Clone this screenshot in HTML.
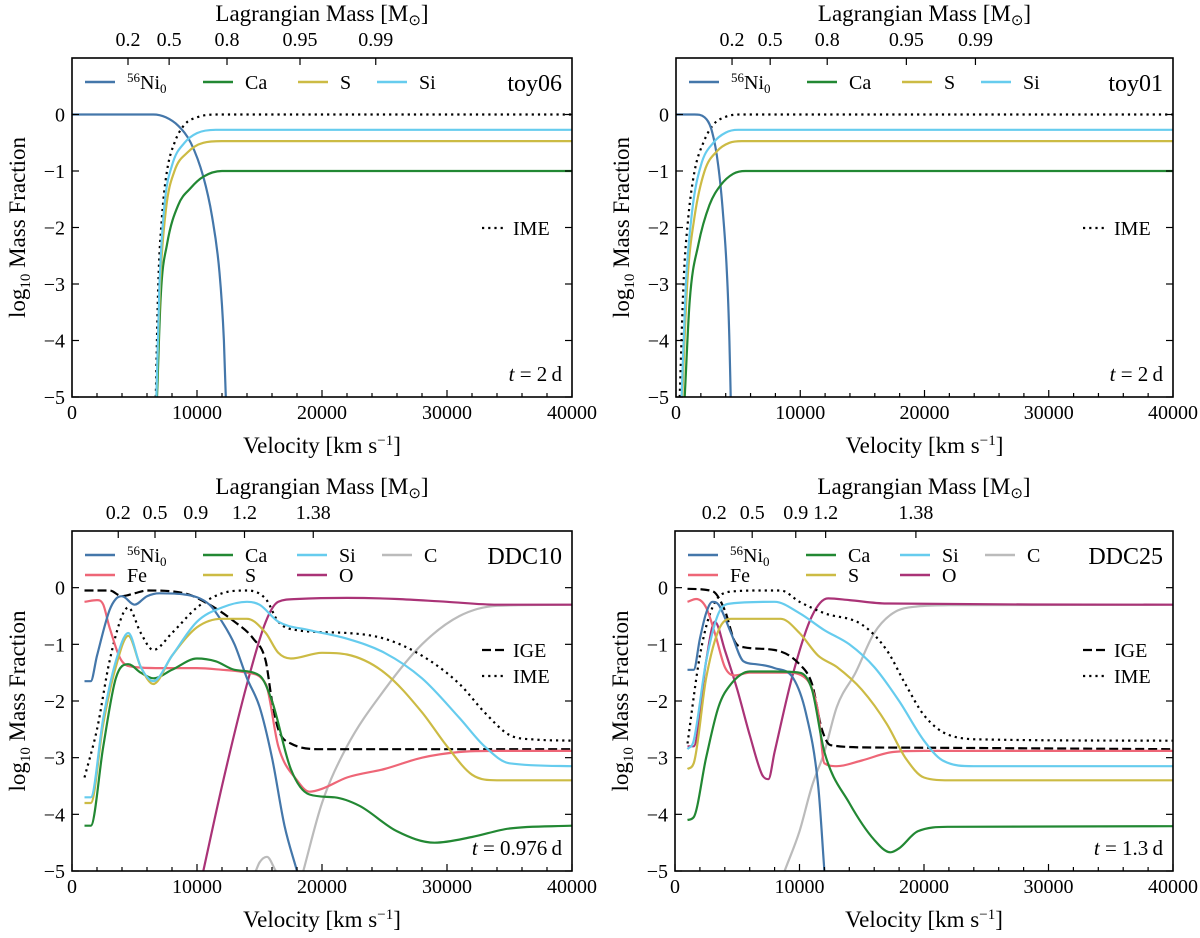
<!DOCTYPE html>
<html><head><meta charset="utf-8">
<style>
html,body{margin:0;padding:0;background:#fff;}
svg{display:block;font-family:"Liberation Serif",serif;}
</style></head>
<body>
<svg id="fig" width="1200" height="938" viewBox="0 0 1200 938" xmlns="http://www.w3.org/2000/svg"></svg>
<script>
// ---------- data (velocity km/s, log10 mass fraction) ----------
const velTicks = [0, 10000, 20000, 30000, 40000];
const yTicks = [0, -1, -2, -3, -4, -5];

const toy06Ni = [[0,0],[6500,0],[7500,-0.05],[8500,-0.2],[9500,-0.5],[10500,-1.1],[11200,-1.8],[11800,-2.8],[12150,-4],[12300,-5]];
const toy06IME = [[6700,-5],[6900,-3],[7200,-1.8],[7600,-1],[8200,-0.5],[9000,-0.18],[10000,-0.05],[11500,0],[40000,0]];
const toy06Si = [[6750,-5],[7000,-3],[7400,-1.6],[8000,-0.9],[9000,-0.5],[10000,-0.33],[11500,-0.27],[40000,-0.27]];
const toy06S = [[6750,-5],[7050,-3],[7500,-1.7],[8200,-1.0],[9200,-0.68],[10500,-0.5],[12000,-0.47],[40000,-0.47]];
const toy06Ca = [[6800,-5],[7100,-3.2],[7600,-2.3],[8500,-1.6],[9500,-1.3],[10500,-1.1],[12000,-1.0],[40000,-1.0]];

const toy01Ni = [[0,0],[1500,0],[2300,-0.05],[2900,-0.3],[3400,-0.9],[3800,-1.8],[4100,-2.8],[4300,-4],[4400,-5]];
const toy01IME = [[300,-5],[600,-3],[1000,-1.8],[1500,-1],[2200,-0.5],[3000,-0.18],[4000,-0.04],[5200,0],[40000,0]];
const toy01Si = [[450,-5],[800,-3],[1300,-1.7],[2000,-0.9],[3000,-0.5],[4000,-0.32],[5000,-0.27],[40000,-0.27]];
const toy01S = [[500,-5],[900,-3],[1500,-1.8],[2300,-1.0],[3300,-0.65],[4300,-0.5],[5300,-0.47],[40000,-0.47]];
const toy01Ca = [[700,-5],[1100,-3.3],[1800,-2.3],[2700,-1.6],[3600,-1.25],[4600,-1.05],[5600,-1.0],[40000,-1.0]];

const ddc10Ni = [[1000,-1.65],[1500,-1.65],[2000,-1.2],[3000,-0.4],[3500,-0.2],[4000,-0.15],[5000,-0.3],[6000,-0.15],[7000,-0.1],[9000,-0.12],[11000,-0.3],[12000,-0.6],[13000,-1.0],[14000,-1.6],[15000,-2.1],[16000,-3.0],[17000,-4.2],[18000,-5]];
const ddc10Fe = [[1000,-0.25],[2000,-0.22],[2500,-0.3],[3000,-0.7],[4000,-1.3],[5000,-1.4],[7000,-1.42],[10000,-1.42],[12000,-1.45],[14000,-1.5],[15500,-1.7],[16500,-2.8],[18000,-3.4],[19000,-3.6],[20000,-3.55],[22000,-3.35],[25000,-3.2],[28000,-3.0],[31000,-2.9],[34000,-2.88],[40000,-2.88]];
const ddc10IGE = [[1000,-0.05],[3000,-0.05],[4000,-0.15],[5000,-0.1],[6000,-0.05],[9000,-0.1],[11000,-0.3],[13000,-0.6],[14500,-0.9],[15500,-1.3],[16000,-2.0],[16500,-2.5],[17500,-2.75],[20000,-2.85],[40000,-2.85]];
const ddc10IME = [[1000,-3.35],[2000,-2.5],[3000,-1.3],[4000,-0.5],[4500,-0.35],[5500,-0.8],[6500,-1.1],[8000,-0.8],[10000,-0.35],[12000,-0.1],[14000,-0.05],[15500,-0.2],[16500,-0.6],[18000,-0.75],[22000,-0.8],[25000,-0.9],[28000,-1.2],[31000,-1.7],[33000,-2.2],[35000,-2.6],[37000,-2.68],[40000,-2.7]];
const ddc10Si = [[1000,-3.7],[1500,-3.7],[2500,-2.3],[3500,-1.3],[4500,-0.8],[5500,-1.4],[6500,-1.65],[8000,-1.2],[10000,-0.6],[12000,-0.35],[14000,-0.25],[15000,-0.3],[16500,-0.6],[19000,-0.75],[22000,-0.9],[25000,-1.15],[28000,-1.6],[31000,-2.3],[33000,-2.8],[35000,-3.1],[40000,-3.15]];
const ddc10S = [[1000,-3.8],[1500,-3.8],[2500,-2.4],[3500,-1.4],[4500,-0.85],[5500,-1.4],[6500,-1.7],[8000,-1.2],[10000,-0.7],[12000,-0.55],[14000,-0.55],[15500,-0.8],[16500,-1.15],[17500,-1.25],[20000,-1.15],[22000,-1.18],[25000,-1.5],[28000,-2.2],[30000,-2.8],[32000,-3.3],[34000,-3.4],[40000,-3.4]];
const ddc10Ca = [[1000,-4.2],[1500,-4.2],[2500,-2.8],[3500,-1.6],[4500,-1.35],[5500,-1.5],[6500,-1.6],[8000,-1.45],[10000,-1.25],[11500,-1.3],[13000,-1.45],[15000,-1.55],[16000,-2.0],[17500,-3.2],[19000,-3.65],[21000,-3.7],[23000,-3.85],[26000,-4.3],[29000,-4.5],[32000,-4.4],[35000,-4.25],[40000,-4.2]];
const ddc10O = [[10500,-5],[12000,-3.5],[14000,-1.7],[15500,-0.6],[16500,-0.25],[18000,-0.2],[22000,-0.18],[26000,-0.2],[30000,-0.25],[34000,-0.3],[40000,-0.3]];
const ddc10C = [[14700,-5],[15000,-4.85],[15600,-4.75],[16300,-5]];
const ddc10C2 = [[18500,-5],[20000,-3.8],[22000,-2.8],[25000,-1.8],[28000,-1.0],[31000,-0.5],[34000,-0.32],[40000,-0.3]];

const ddc25Ni = [[1000,-1.45],[1500,-1.45],[2000,-0.9],[2500,-0.45],[3000,-0.25],[3500,-0.3],[4500,-0.8],[5500,-1.3],[6500,-1.35],[8000,-1.42],[9500,-1.6],[10500,-2.2],[11500,-3.5],[12000,-5]];
const ddc25Fe = [[1000,-0.25],[1700,-0.2],[2500,-0.35],[3200,-0.8],[4000,-1.4],[4800,-1.55],[6000,-1.5],[9000,-1.5],[10500,-1.6],[11500,-2.2],[12000,-3.1],[13000,-3.15],[15000,-3.05],[17500,-2.9],[20000,-2.88],[40000,-2.88]];
const ddc25IGE = [[1000,-0.02],[3000,-0.06],[4000,-0.4],[4800,-0.95],[5500,-1.05],[8000,-1.1],[10000,-1.35],[11000,-1.7],[11800,-2.5],[12500,-2.78],[16000,-2.82],[40000,-2.85]];
const ddc25IME = [[1000,-2.75],[2000,-1.2],[3000,-0.35],[4500,-0.07],[7000,-0.05],[8500,-0.05],[10000,-0.25],[12000,-0.45],[15000,-0.65],[17000,-1.1],[18500,-1.7],[20000,-2.25],[22000,-2.6],[25000,-2.68],[40000,-2.7]];
const ddc25Si = [[1000,-2.85],[1500,-2.7],[2500,-1.3],[3500,-0.45],[4500,-0.28],[8000,-0.25],[10000,-0.45],[12000,-0.75],[14000,-1.0],[16000,-1.4],[18000,-2.0],[20000,-2.7],[21500,-3.05],[24000,-3.15],[40000,-3.15]];
const ddc25S = [[1000,-3.2],[1500,-3.1],[2500,-1.6],[3500,-0.75],[4500,-0.55],[8500,-0.55],[10000,-0.8],[11500,-1.2],[13000,-1.4],[15000,-1.8],[17000,-2.4],[18500,-3.0],[20000,-3.35],[22000,-3.4],[40000,-3.4]];
const ddc25Ca = [[1000,-4.1],[1500,-4.05],[2500,-3.0],[3500,-2.1],[4500,-1.7],[6000,-1.48],[8000,-1.48],[10000,-1.5],[11000,-1.8],[12000,-2.9],[14000,-3.8],[16000,-4.45],[17300,-4.67],[18000,-4.6],[19500,-4.3],[22000,-4.22],[40000,-4.21]];
const ddc25O = [[1000,-2.8],[1500,-2.8],[2500,-1.3],[3200,-0.6],[4000,-1.1],[5000,-1.8],[6000,-2.6],[7000,-3.3],[7500,-3.38],[8000,-2.9],[9500,-1.5],[11000,-0.5],[12300,-0.19],[14000,-0.22],[17000,-0.28],[40000,-0.3]];
const ddc25C = [[8800,-5],[10000,-4.3],[11000,-3.5],[12000,-2.9],[13000,-2.1],[14500,-1.5],[16000,-0.8],[17500,-0.45],[19500,-0.33],[22000,-0.31],[40000,-0.3]];

const massTop06 = [[4480,"0.2"],[7770,"0.5"],[12400,"0.8"],[18240,"0.95"],[24300,"0.99"]];
const massTop01 = [[4510,"0.2"],[7580,"0.5"],[12170,"0.8"],[18540,"0.95"],[24100,"0.99"]];
const massDDC10 = [[3700,"0.2"],[6640,"0.5"],[9900,"0.9"],[13800,"1.2"],[19300,"1.38"]];
const massDDC25 = [[3150,"0.2"],[6200,"0.5"],[9700,"0.9"],[12100,"1.2"],[19350,"1.38"]];

// ---------- styles ----------
const COL = {Ni:"#4477aa",Ca:"#228833",S:"#ccbb44",Si:"#66ccee",Fe:"#ee6677",O:"#aa3377",C:"#bbbbbb",IGE:"#000",IME:"#000"};
const NS = "http://www.w3.org/2000/svg";
const svg = document.getElementById('fig');
function el(tag, attrs, parent){ const e=document.createElementNS(NS,tag); for(const k in attrs) e.setAttribute(k,attrs[k]); (parent||svg).appendChild(e); return e; }

// monotone cubic path through pixel points
function smoothPath(P){
  const n=P.length; if(n<2) return '';
  const dx=[],m=[],t=new Array(n);
  for(let i=0;i<n-1;i++){dx[i]=P[i+1][0]-P[i][0]; m[i]=(P[i+1][1]-P[i][1])/(dx[i]||1e-6);}
  t[0]=m[0]; t[n-1]=m[n-2];
  for(let i=1;i<n-1;i++){ t[i]=(m[i-1]*m[i]<=0)?0:(m[i-1]+m[i])/2; }
  for(let i=0;i<n-1;i++){
    if(m[i]===0){t[i]=0;t[i+1]=0;continue;}
    const a=t[i]/m[i], b=t[i+1]/m[i], s=a*a+b*b;
    if(s>9){const k=3/Math.sqrt(s); t[i]=k*a*m[i]; t[i+1]=k*b*m[i];}
  }
  let d='M'+P[0][0].toFixed(1)+' '+P[0][1].toFixed(1);
  for(let i=0;i<n-1;i++){
    const h=dx[i]/3;
    d+=' C'+(P[i][0]+h).toFixed(1)+' '+(P[i][1]+t[i]*h).toFixed(1)+' '+(P[i+1][0]-h).toFixed(1)+' '+(P[i+1][1]-t[i+1]*h).toFixed(1)+' '+P[i+1][0].toFixed(1)+' '+P[i+1][1].toFixed(1);
  }
  return d;
}

const panels = [
 {id:"toy06", L:72,R:572,T:58,B:397, name:"toy06", time:"2\u2009d", mass:massTop06, legend2:false,
  series:[["IME",toy06IME],["Ni",toy06Ni],["Ca",toy06Ca],["S",toy06S],["Si",toy06Si]]},
 {id:"toy01", L:676,R:1173,T:58,B:397, name:"toy01", time:"2\u2009d", mass:massTop01, legend2:false,
  series:[["IME",toy01IME],["Ni",toy01Ni],["Ca",toy01Ca],["S",toy01S],["Si",toy01Si]]},
 {id:"ddc10", L:72,R:572,T:531,B:871, name:"DDC10", time:"0.976\u2009d", mass:massDDC10, legend2:true,
  series:[["C",ddc10C],["C",ddc10C2],["O",ddc10O],["IGE",ddc10IGE],["IME",ddc10IME],["Fe",ddc10Fe],["Ni",ddc10Ni],["Ca",ddc10Ca],["S",ddc10S],["Si",ddc10Si]]},
 {id:"ddc25", L:675,R:1173,T:531,B:871, name:"DDC25", time:"1.3\u2009d", mass:massDDC25, legend2:true,
  series:[["C",ddc25C],["O",ddc25O],["IGE",ddc25IGE],["IME",ddc25IME],["Fe",ddc25Fe],["Ni",ddc25Ni],["Ca",ddc25Ca],["S",ddc25S],["Si",ddc25Si]]}
];

panels.forEach(p=>{
  const xs = v => p.L + (v/40000)*(p.R-p.L);
  const ys = y => p.B - ((y+5)/6)*(p.B-p.T);
  const g = el('g',{});
  
  
  const cp = el('clipPath',{id:'clip-'+p.id},g);
  el('rect',{x:p.L,y:p.T,width:p.R-p.L,height:p.B-p.T},cp);
  const sg = el('g',{'clip-path':'url(#clip-'+p.id+')'},g);
  p.series.forEach(([k,pts])=>{
    const P = pts.map(q=>[xs(q[0]),ys(q[1])]);
    const path = el('path',{d:smoothPath(P),fill:'none',stroke:COL[k],'stroke-width':2.2,'stroke-linejoin':'round'},sg);
    if(k==='IME') path.setAttribute('stroke-dasharray','2.2 4');
    if(k==='IGE') path.setAttribute('stroke-dasharray','9 4');
    
    
  });
  const fr = el('rect',{x:p.L,y:p.T,width:p.R-p.L,height:p.B-p.T,fill:'none',stroke:'#000','stroke-width':1.6},g);
  
  
  for(let v=0; v<=40000; v+=2000){
    const major = v%10000===0; const len = major?7:4;
    el('line',{x1:xs(v),x2:xs(v),y1:p.B,y2:p.B-len,stroke:'#000','stroke-width':1.2},g);
  }
  velTicks.forEach(v=>{
    const t = el('text',{x:xs(v),y:p.B+22,'font-size':20,'text-anchor':'middle'},g);
    t.textContent = String(v);
    
    
  });
  yTicks.forEach(y=>{
    el('line',{x1:p.L,x2:p.L+7,y1:ys(y),y2:ys(y),stroke:'#000','stroke-width':1.2},g);
    el('line',{x1:p.R,x2:p.R-7,y1:ys(y),y2:ys(y),stroke:'#000','stroke-width':1.2},g);
    const t = el('text',{x:p.L-7,y:ys(y)+7,'font-size':20,'text-anchor':'end'},g);
    t.textContent = y===0?'0':'\u2212'+Math.abs(y);
    
    
  });
  p.mass.forEach(([v,lab])=>{
    el('line',{x1:xs(v),x2:xs(v),y1:p.T,y2:p.T+7,stroke:'#000','stroke-width':1.2},g);
    const t = el('text',{x:xs(v),y:p.T-12,'font-size':20,'text-anchor':'middle'},g);
    t.textContent = lab;
    
    
  });
  const cx = (p.L+p.R)/2;
  const tt = el('text',{x:cx,y:p.T-37,'font-size':23,'text-anchor':'middle'},g);
  tt.innerHTML = 'Lagrangian Mass [M<tspan font-size="15" dy="4">\u2299</tspan><tspan dy="-4">]</tspan>';
  
  
  const xt = el('text',{x:cx,y:p.B+56,'font-size':23,'text-anchor':'middle'},g);
  xt.innerHTML = 'Velocity [km s<tspan font-size="15" dy="-8">\u22121</tspan><tspan dy="8">]</tspan>';
  
  
  const yt = el('text',{x:0,y:0,'font-size':23,'text-anchor':'middle',transform:`translate(${p.L-47},${(p.T+p.B)/2}) rotate(-90)`},g);
  yt.innerHTML = 'log<tspan font-size="15" dy="5">10</tspan><tspan dy="-5"> Mass Fraction</tspan>';
  
  
  const nm = el('text',{x:p.R-10,y:p.T+33,'font-size':24,'text-anchor':'end'},g);
  nm.textContent = p.name;
  
  
  const tm = el('text',{x:p.R-10,y:p.B-16,'font-size':21,'text-anchor':'end'},g);
  tm.innerHTML = '<tspan font-style="italic">t</tspan> = '+p.time;
  
  
  const entries = p.legend2
    ? [["Ni",0,0],["Ca",1,0],["Si",2,0],["C",3,0],["Fe",0,1],["S",1,1],["O",2,1]]
    : [["Ni",0,0],["Ca",1,0],["S",2,0],["Si",3,0]];
  const colX = p.legend2 ? [0,118,212,297] : [0,118,213,292];
  entries.forEach(([k,c,r])=>{
    const lx = p.L+13+colX[c], ly = p.T+24+r*20;
    const lg = el('g',{},g);
    
    
    el('line',{x1:lx,x2:lx+30,y1:ly,y2:ly,stroke:COL[k],'stroke-width':2.4},lg);
    const t = el('text',{x:lx+42,y:ly+7,'font-size':20},lg);
    if(k==='Ni') t.innerHTML='<tspan font-size="13" dy="-7">56</tspan><tspan dy="7">Ni</tspan><tspan font-size="13" dy="4">0</tspan>';
    else t.textContent = k;
  });
  const side = p.legend2 ? [["IGE",p.T+119],["IME",p.T+145]] : [["IME",p.T+170]];
  side.forEach(([k,ly])=>{
    const lg = el('g',{},g);
    
    
    const x0 = p.R-90;
    const ln = el('line',{x1:x0,x2:x0+23,y1:ly,y2:ly,stroke:'#000','stroke-width':2.2},lg);
    ln.setAttribute('stroke-dasharray', k==='IME'?'2.2 4':'9 4');
    const t = el('text',{x:x0+31,y:ly+7,'font-size':20},lg);
    t.textContent = k;
  });
});
</script>
</body></html>
